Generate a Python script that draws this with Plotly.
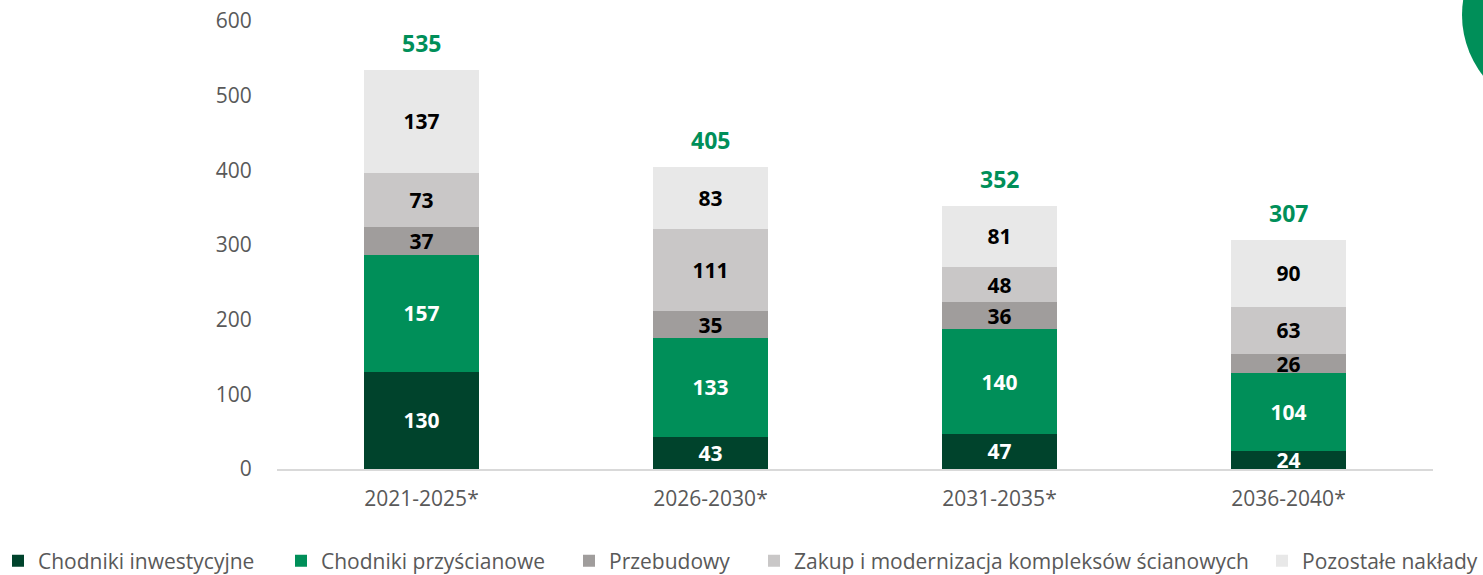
import plotly.graph_objects as go

categories = ["2021-2025*", "2026-2030*", "2031-2035*", "2036-2040*"]
series_names = ["Chodniki inwestycyjne", "Chodniki przyścianowe", "Przebudowy",
                "Zakup i modernizacja kompleksów ścianowych", "Pozostałe nakłady"]
chodniki_inwestycyjne = [130, 43, 47, 24]
chodniki_przyscianowe = [157, 133, 140, 104]
przebudowy = [37, 35, 36, 26]
zakup_modernizacja = [73, 111, 48, 63]
pozostale = [137, 83, 81, 90]
totals = [535, 405, 352, 307]

series_values = [chodniki_inwestycyjne, chodniki_przyscianowe, przebudowy,
                 zakup_modernizacja, pozostale]
colors = ["#00432C", "#008F59", "#A09D9C", "#C9C7C7", "#E8E8E8"]
text_colors = ["#FFFFFF", "#FFFFFF", "#000000", "#000000", "#000000"]
legend_widths = [238, 243, 140, 470, 180]
legend_ids = ["legend", "legend", "legend", "legend", "legend2"]

FONT = "Open Sans"
W, H = 1483, 575
L, R, T, B = 277, 50, 21, 106
PW, PH = W - L - R, H - T - B

fig = go.Figure()
for name, vals, col, tcol, lw, lid in zip(series_names, series_values, colors,
                                          text_colors, legend_widths, legend_ids):
    fig.add_trace(go.Bar(
        x=categories, y=vals, name=name,
        marker=dict(color=col, line=dict(width=0)),
        text=[str(v) for v in vals], textposition="inside",
        insidetextanchor="middle", textangle=0,
        textfont=dict(family=FONT, size=21, color=tcol, weight="bold"),
        constraintext="none", cliponaxis=False,
        legend=lid, legendwidth=lw, hoverinfo="skip",
    ))

for c, t in zip(categories, totals):
    fig.add_annotation(x=c, y=t, text=f"<b>{t}</b>", showarrow=False,
                       yanchor="bottom", yshift=9,
                       font=dict(family=FONT, size=23, color="#008F59"))

def px_x(p):
    return (p - L) / PW

def px_y(p):
    return (H - B - p) / PH

fig.add_shape(type="circle", xref="paper", yref="paper",
              x0=px_x(1462), x1=px_x(1658), y0=px_y(113), y1=px_y(-83),
              fillcolor="#008F59", line=dict(width=0), layer="above")

legend_style = dict(orientation="h", xanchor="left", yanchor="middle",
                    font=dict(family=FONT, size=21, color="#595959"),
                    itemsizing="constant", traceorder="normal",
                    bgcolor="rgba(0,0,0,0)")

fig.update_layout(
    width=W, height=H,
    margin=dict(l=L, r=R, t=T, b=B, pad=0, autoexpand=False),
    barmode="stack", bargap=0.602,
    plot_bgcolor="white", paper_bgcolor="white",
    font=dict(family=FONT, size=21, color="#595959"),
    uniformtext=dict(mode="show", minsize=21),
    showlegend=True,
    legend=dict(x=px_x(-2), y=px_y(561), **legend_style),
    legend2=dict(x=px_x(1262), y=px_y(561), **legend_style),
    xaxis=dict(showline=True, linecolor="#D9D9D9", linewidth=1.5,
               showgrid=False, ticks="", ticklabelstandoff=10,
               tickfont=dict(family=FONT, size=21, color="#595959"),
               fixedrange=True),
    yaxis=dict(range=[0, 600], dtick=100, showgrid=False, zeroline=False,
               showline=False, ticks="outside", ticklen=20,
               tickcolor="rgba(0,0,0,0)",
               tickfont=dict(family=FONT, size=21, color="#595959"),
               fixedrange=True),
)

fig.write_html("out.html", config={"displayModeBar": False},
               post_script="document.body.style.margin='0px';document.body.style.overflow='hidden';")
